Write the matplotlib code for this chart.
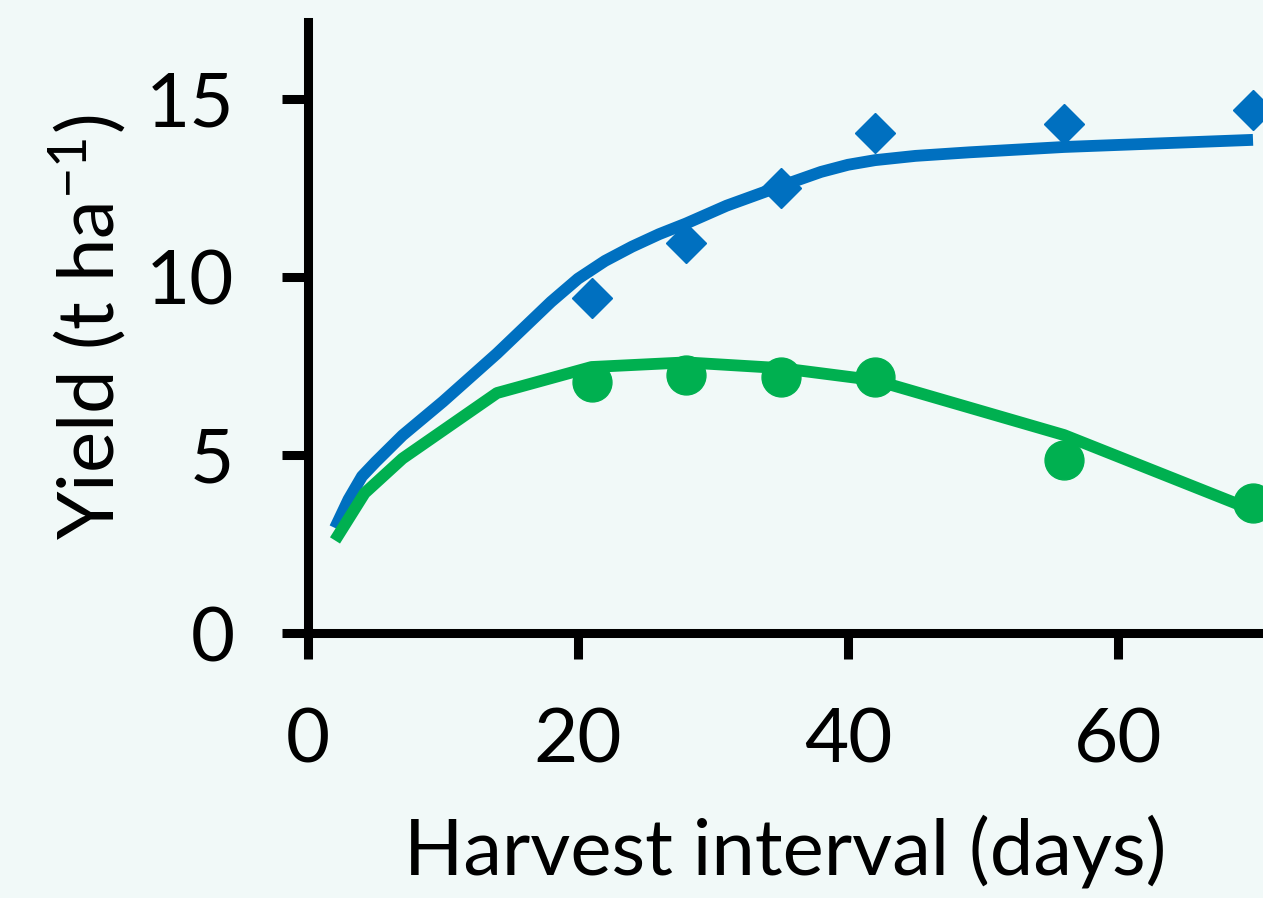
import matplotlib
matplotlib.use("Agg")
import matplotlib.pyplot as plt

# Messpunkte (Ernteintervall in Tagen)
days_obs = [21, 28, 35, 42, 56, 70]
yield_blue_obs = [9.4, 10.95, 12.5, 14.05, 14.3, 14.7]
yield_green_obs = [7.05, 7.25, 7.2, 7.2, 4.85, 3.65]

# Modellkurven
days_blue_fit = [2, 3, 4, 5, 7, 10, 14, 18, 20, 22, 24, 26, 28, 31, 35, 38, 40, 42, 45, 49, 56, 63, 70]
yield_blue_fit = [2.95, 3.75, 4.4, 4.8, 5.55, 6.5, 7.85, 9.3, 9.95, 10.45, 10.85, 11.2, 11.5, 12.0,
                  12.55, 12.95, 13.15, 13.28, 13.4, 13.5, 13.65, 13.75, 13.85]
days_green_fit = [2, 4.2, 7, 14, 21, 28, 35, 42, 56, 70]
yield_green_fit = [2.6, 3.93, 4.9, 6.74, 7.47, 7.6, 7.44, 7.1, 5.56, 3.45]

x_ticks = [0, 20, 40, 60]
y_ticks = [0, 5, 10, 15]

blue = "#0070C0"
green = "#00B050"
bg = "#F1F9F8"

plt.rcParams['font.family'] = ['Lato', 'DejaVu Sans']
plt.rcParams['mathtext.fontset'] = 'custom'
plt.rcParams['mathtext.rm'] = 'Lato'
plt.rcParams['mathtext.it'] = 'Lato'
plt.rcParams['mathtext.default'] = 'regular'

fig = plt.figure(figsize=(12.63, 8.98), dpi=100, facecolor=bg)
ax = fig.add_axes([308 / 1263, 1 - 633 / 898, (1263 - 308) / 1263, (633 - 22) / 898])
ax.set_facecolor(bg)

ax.plot(days_blue_fit, yield_blue_fit, color=blue, lw=8.5, solid_capstyle="butt",
        solid_joinstyle="round", zorder=2, clip_on=False)
ax.plot(days_green_fit, yield_green_fit, color=green, lw=8.5, solid_capstyle="butt",
        solid_joinstyle="round", zorder=2, clip_on=False)
ax.plot(days_obs, yield_blue_obs, ls="none", marker="D", ms=20, color=blue, zorder=3, clip_on=False)
ax.plot(days_obs, yield_green_obs, ls="none", marker="o", ms=28, color=green, zorder=3, clip_on=False)

ax.set_xlim(0, 70.74)
ax.set_ylim(0, 17.16)
ax.set_xticks(x_ticks)
ax.set_yticks(y_ticks)

for s in ["top", "right"]:
    ax.spines[s].set_visible(False)
for s in ["left", "bottom"]:
    ax.spines[s].set_linewidth(6.5)
    ax.spines[s].set_color("black")

ax.tick_params(axis="both", direction="out", length=19, width=6.5, labelsize=55, color="black")
ax.tick_params(axis="x", pad=34)
ax.tick_params(axis="y", pad=34)

ax.set_xlabel("Harvest interval (days)", fontsize=56, labelpad=28)
ax.set_ylabel("Yield (t ha$^{-1}$)", fontsize=56, labelpad=12)

fig.savefig("out.png", dpi=100, facecolor=bg)
